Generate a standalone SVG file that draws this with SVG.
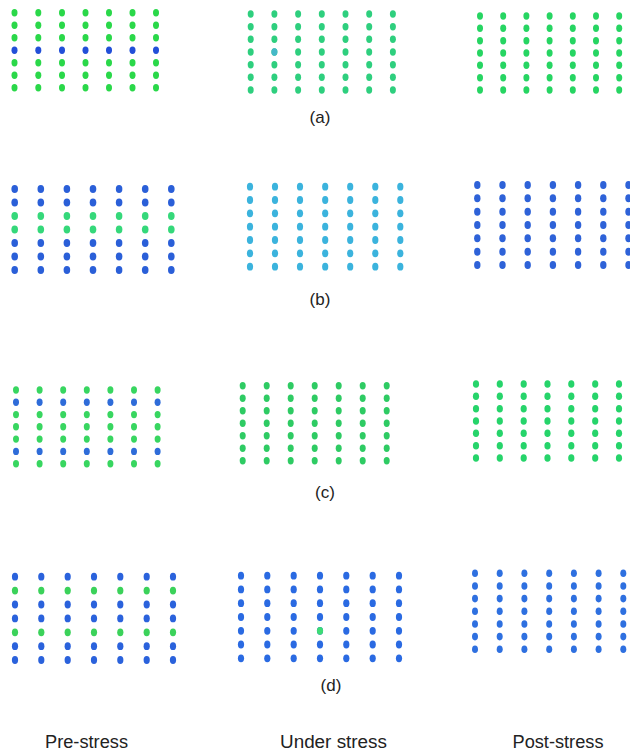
<svg xmlns="http://www.w3.org/2000/svg" xmlns:xlink="http://www.w3.org/1999/xlink" width="630" height="753" viewBox="0 0 630 753">
<style>
.ga1{fill:#2ad84a}.ba1{fill:#2250d8}
.ta2{fill:#2fcf7e}
.ga3{fill:#27d562}
.bb1{fill:#2b5fd8}.gb1{fill:#35d87a}
.cb2{fill:#3ab3dd}
.bb3{fill:#2d62d8}
.gc1{fill:#38d660}.bc1{fill:#2f6cd9}
.gc2{fill:#2fcb63}
.gc3{fill:#25d46a}
.bd1{fill:#2b62dc}.gd1{fill:#3bd25a}
.bd2{fill:#2a6ae2}.gd2{fill:#3ddc75}
.bd3{fill:#2f6fe0}
text{font-family:"Liberation Sans",Arial,sans-serif;fill:#222;text-anchor:middle}
.lab{font-size:17px}
.cap{font-size:18px}
</style>
<defs>
<filter id="soft" x="-5%" y="-5%" width="110%" height="110%"><feGaussianBlur stdDeviation="0.45"/></filter>
</defs>
<rect width="630" height="753" fill="#ffffff"/>

<g id="panel-a-pre" filter="url(#soft)">
<defs><g id="rA1"><ellipse cx="14.5" cy="0" rx="3" ry="3.7"/><ellipse cx="38.3" cy="0" rx="3" ry="3.7"/><ellipse cx="62" cy="0" rx="3" ry="3.7"/><ellipse cx="85.5" cy="0" rx="3" ry="3.7"/><ellipse cx="109" cy="0" rx="3" ry="3.7"/><ellipse cx="132.5" cy="0" rx="3" ry="3.7"/><ellipse cx="156" cy="0" rx="3" ry="3.7"/></g></defs>
<use href="#rA1" y="12.7" class="ga1"/><use href="#rA1" y="25.2" class="ga1"/><use href="#rA1" y="37.7" class="ga1"/><use href="#rA1" y="50.2" class="ba1"/><use href="#rA1" y="62.7" class="ga1"/><use href="#rA1" y="75.2" class="ga1"/><use href="#rA1" y="87.7" class="ga1"/>
</g>

<g id="panel-a-under" filter="url(#soft)">
<defs><g id="rA2"><ellipse cx="250.7" cy="0" rx="3" ry="3.7"/><ellipse cx="274.4" cy="0" rx="3" ry="3.7"/><ellipse cx="298.1" cy="0" rx="3" ry="3.7"/><ellipse cx="321.8" cy="0" rx="3" ry="3.7"/><ellipse cx="345.5" cy="0" rx="3" ry="3.7"/><ellipse cx="369.2" cy="0" rx="3" ry="3.7"/><ellipse cx="392.9" cy="0" rx="3" ry="3.7"/></g></defs>
<use href="#rA2" y="14" class="ta2"/><use href="#rA2" y="26.7" class="ta2"/><use href="#rA2" y="39.3" class="ta2"/><use href="#rA2" y="52" class="ta2"/><use href="#rA2" y="64.7" class="ta2"/><use href="#rA2" y="77.3" class="ta2"/><use href="#rA2" y="90" class="ta2"/>
<ellipse cx="274.4" cy="52" rx="3" ry="3.7" fill="#45b8c8"/>
</g>

<g id="panel-a-post" filter="url(#soft)">
<defs><g id="rA3"><ellipse cx="480" cy="0" rx="3" ry="3.7"/><ellipse cx="503.2" cy="0" rx="3" ry="3.7"/><ellipse cx="526.4" cy="0" rx="3" ry="3.7"/><ellipse cx="549.6" cy="0" rx="3" ry="3.7"/><ellipse cx="572.8" cy="0" rx="3" ry="3.7"/><ellipse cx="596" cy="0" rx="3" ry="3.7"/><ellipse cx="619.2" cy="0" rx="3" ry="3.7"/></g></defs>
<use href="#rA3" y="16" class="ga3"/><use href="#rA3" y="28.3" class="ga3"/><use href="#rA3" y="40.7" class="ga3"/><use href="#rA3" y="53" class="ga3"/><use href="#rA3" y="65.3" class="ga3"/><use href="#rA3" y="77.7" class="ga3"/><use href="#rA3" y="90" class="ga3"/>
</g>

<g id="panel-b-pre" filter="url(#soft)">
<defs><g id="rB1"><ellipse cx="14.7" cy="0" rx="3.3" ry="4.1"/><ellipse cx="40.8" cy="0" rx="3.3" ry="4.1"/><ellipse cx="66.9" cy="0" rx="3.3" ry="4.1"/><ellipse cx="93" cy="0" rx="3.3" ry="4.1"/><ellipse cx="119.1" cy="0" rx="3.3" ry="4.1"/><ellipse cx="145.2" cy="0" rx="3.3" ry="4.1"/><ellipse cx="171.3" cy="0" rx="3.3" ry="4.1"/></g></defs>
<use href="#rB1" y="189" class="bb1"/><use href="#rB1" y="202.5" class="bb1"/><use href="#rB1" y="216" class="gb1"/><use href="#rB1" y="229.5" class="gb1"/><use href="#rB1" y="243" class="bb1"/><use href="#rB1" y="256.5" class="bb1"/><use href="#rB1" y="270" class="bb1"/>
</g>

<g id="panel-b-under" filter="url(#soft)">
<defs><g id="rB2"><ellipse cx="250" cy="0" rx="3.1" ry="3.9"/><ellipse cx="275" cy="0" rx="3.1" ry="3.9"/><ellipse cx="300" cy="0" rx="3.1" ry="3.9"/><ellipse cx="325.2" cy="0" rx="3.1" ry="3.9"/><ellipse cx="350.2" cy="0" rx="3.1" ry="3.9"/><ellipse cx="375.3" cy="0" rx="3.1" ry="3.9"/><ellipse cx="400.3" cy="0" rx="3.1" ry="3.9"/></g></defs>
<use href="#rB2" y="186.7" class="cb2"/><use href="#rB2" y="200" class="cb2"/><use href="#rB2" y="213.3" class="cb2"/><use href="#rB2" y="226.7" class="cb2"/><use href="#rB2" y="240" class="cb2"/><use href="#rB2" y="253.3" class="cb2"/><use href="#rB2" y="266.7" class="cb2"/>
</g>

<g id="panel-b-post" filter="url(#soft)">
<defs><g id="rB3"><ellipse cx="477.3" cy="0" rx="3.2" ry="4"/><ellipse cx="502.5" cy="0" rx="3.2" ry="4"/><ellipse cx="527.7" cy="0" rx="3.2" ry="4"/><ellipse cx="552.9" cy="0" rx="3.2" ry="4"/><ellipse cx="578.1" cy="0" rx="3.2" ry="4"/><ellipse cx="603.3" cy="0" rx="3.2" ry="4"/><ellipse cx="628.5" cy="0" rx="3.2" ry="4"/></g></defs>
<use href="#rB3" y="185" class="bb3"/><use href="#rB3" y="198.3" class="bb3"/><use href="#rB3" y="211.7" class="bb3"/><use href="#rB3" y="225" class="bb3"/><use href="#rB3" y="238.3" class="bb3"/><use href="#rB3" y="251.7" class="bb3"/><use href="#rB3" y="265" class="bb3"/>
</g>

<g id="panel-c-pre" filter="url(#soft)">
<defs><g id="rC1"><ellipse cx="16" cy="0" rx="3" ry="3.7"/><ellipse cx="39.6" cy="0" rx="3" ry="3.7"/><ellipse cx="63.2" cy="0" rx="3" ry="3.7"/><ellipse cx="86.8" cy="0" rx="3" ry="3.7"/><ellipse cx="110.4" cy="0" rx="3" ry="3.7"/><ellipse cx="134" cy="0" rx="3" ry="3.7"/><ellipse cx="157.6" cy="0" rx="3" ry="3.7"/></g></defs>
<use href="#rC1" y="390" class="gc1"/><use href="#rC1" y="402.3" class="bc1"/><use href="#rC1" y="414.6" class="gc1"/><use href="#rC1" y="426.8" class="gc1"/><use href="#rC1" y="439.1" class="gc1"/><use href="#rC1" y="451.4" class="bc1"/><use href="#rC1" y="463.7" class="gc1"/>
</g>

<g id="panel-c-under" filter="url(#soft)">
<defs><g id="rC2"><ellipse cx="242.7" cy="0" rx="3" ry="3.7"/><ellipse cx="266.7" cy="0" rx="3" ry="3.7"/><ellipse cx="290.7" cy="0" rx="3" ry="3.7"/><ellipse cx="314.7" cy="0" rx="3" ry="3.7"/><ellipse cx="338.7" cy="0" rx="3" ry="3.7"/><ellipse cx="362.7" cy="0" rx="3" ry="3.7"/><ellipse cx="386.7" cy="0" rx="3" ry="3.7"/></g></defs>
<use href="#rC2" y="385.7" class="gc2"/><use href="#rC2" y="398.2" class="gc2"/><use href="#rC2" y="410.7" class="gc2"/><use href="#rC2" y="423.2" class="gc2"/><use href="#rC2" y="435.7" class="gc2"/><use href="#rC2" y="448.2" class="gc2"/><use href="#rC2" y="460.7" class="gc2"/>
</g>

<g id="panel-c-post" filter="url(#soft)">
<defs><g id="rC3"><ellipse cx="476" cy="0" rx="3.1" ry="3.8"/><ellipse cx="499.8" cy="0" rx="3.1" ry="3.8"/><ellipse cx="523.7" cy="0" rx="3.1" ry="3.8"/><ellipse cx="547.5" cy="0" rx="3.1" ry="3.8"/><ellipse cx="571.3" cy="0" rx="3.1" ry="3.8"/><ellipse cx="595.2" cy="0" rx="3.1" ry="3.8"/><ellipse cx="619" cy="0" rx="3.1" ry="3.8"/></g></defs>
<use href="#rC3" y="384" class="gc3"/><use href="#rC3" y="396.3" class="gc3"/><use href="#rC3" y="408.7" class="gc3"/><use href="#rC3" y="421" class="gc3"/><use href="#rC3" y="433.3" class="gc3"/><use href="#rC3" y="445.7" class="gc3"/><use href="#rC3" y="458" class="gc3"/>
</g>

<g id="panel-d-pre" filter="url(#soft)">
<defs><g id="rD1"><ellipse cx="15" cy="0" rx="3.1" ry="3.9"/><ellipse cx="41.3" cy="0" rx="3.1" ry="3.9"/><ellipse cx="67.7" cy="0" rx="3.1" ry="3.9"/><ellipse cx="94" cy="0" rx="3.1" ry="3.9"/><ellipse cx="120.3" cy="0" rx="3.1" ry="3.9"/><ellipse cx="146.7" cy="0" rx="3.1" ry="3.9"/><ellipse cx="173" cy="0" rx="3.1" ry="3.9"/></g></defs>
<use href="#rD1" y="576.7" class="bd1"/><use href="#rD1" y="590.6" class="gd1"/><use href="#rD1" y="604.5" class="bd1"/><use href="#rD1" y="618.4" class="bd1"/><use href="#rD1" y="632.3" class="gd1"/><use href="#rD1" y="646.2" class="bd1"/><use href="#rD1" y="660" class="bd1"/>
</g>

<g id="panel-d-under" filter="url(#soft)">
<defs><g id="rD2"><ellipse cx="241" cy="0" rx="3.1" ry="3.9"/><ellipse cx="267.3" cy="0" rx="3.1" ry="3.9"/><ellipse cx="293.7" cy="0" rx="3.1" ry="3.9"/><ellipse cx="320" cy="0" rx="3.1" ry="3.9"/><ellipse cx="346.3" cy="0" rx="3.1" ry="3.9"/><ellipse cx="372.7" cy="0" rx="3.1" ry="3.9"/><ellipse cx="399" cy="0" rx="3.1" ry="3.9"/></g></defs>
<use href="#rD2" y="575.7" class="bd2"/><use href="#rD2" y="589.4" class="bd2"/><use href="#rD2" y="603.2" class="bd2"/><use href="#rD2" y="617" class="bd2"/><use href="#rD2" y="630.8" class="bd2"/><use href="#rD2" y="644.5" class="bd2"/><use href="#rD2" y="658.3" class="bd2"/>
<ellipse cx="320" cy="630.8" rx="3.1" ry="3.9" class="gd2"/>
</g>

<g id="panel-d-post" filter="url(#soft)">
<defs><g id="rD3"><ellipse cx="475" cy="0" rx="3" ry="3.8"/><ellipse cx="499.7" cy="0" rx="3" ry="3.8"/><ellipse cx="524.4" cy="0" rx="3" ry="3.8"/><ellipse cx="549.2" cy="0" rx="3" ry="3.8"/><ellipse cx="573.9" cy="0" rx="3" ry="3.8"/><ellipse cx="598.6" cy="0" rx="3" ry="3.8"/><ellipse cx="623.3" cy="0" rx="3" ry="3.8"/></g></defs>
<use href="#rD3" y="573.3" class="bd3"/><use href="#rD3" y="586" class="bd3"/><use href="#rD3" y="598.6" class="bd3"/><use href="#rD3" y="611.3" class="bd3"/><use href="#rD3" y="624" class="bd3"/><use href="#rD3" y="636.6" class="bd3"/><use href="#rD3" y="649.3" class="bd3"/>
</g>

<g id="labels">
<text class="lab" x="320" y="122.5">(a)</text>
<text class="lab" x="320" y="304.5">(b)</text>
<text class="lab" x="325" y="498">(c)</text>
<text class="lab" x="331" y="691">(d)</text>
<text class="cap" x="86.5" y="747.5" textLength="83" lengthAdjust="spacingAndGlyphs">Pre-stress</text>
<text class="cap" x="333.5" y="748" textLength="107" lengthAdjust="spacingAndGlyphs">Under stress</text>
<text class="cap" x="558" y="748" textLength="91" lengthAdjust="spacingAndGlyphs">Post-stress</text>
</g>
</svg>
